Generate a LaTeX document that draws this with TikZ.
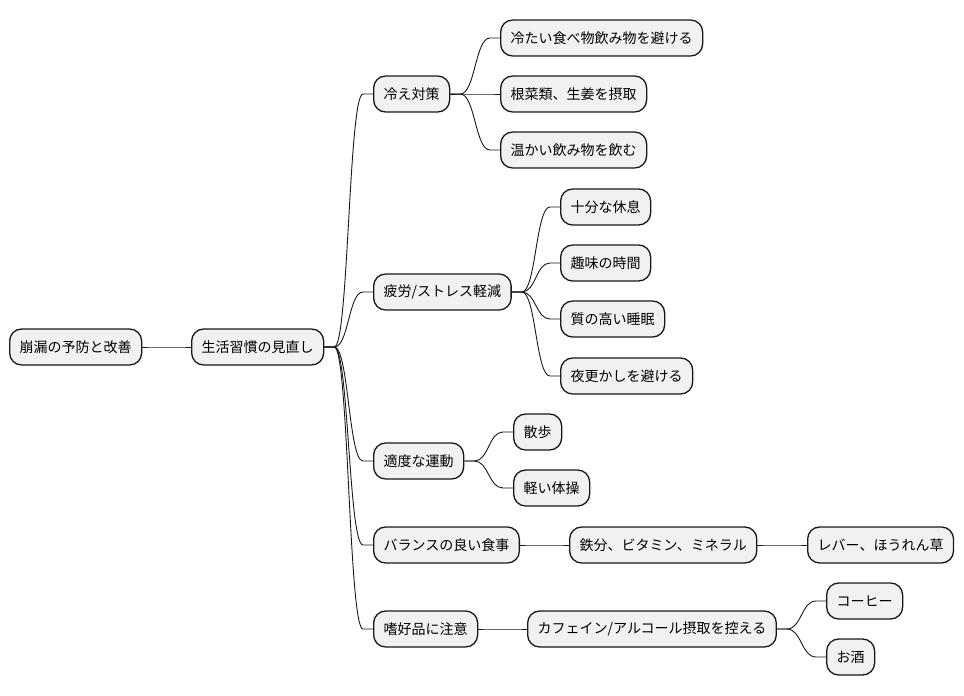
\documentclass[tikz,border=0pt]{standalone}
\usepackage{fontspec}
\setmainfont{Noto Sans CJK JP}
\usepackage{tikz}
\usetikzlibrary{calc}

\definecolor{nodefill}{HTML}{F1F1F1}
\definecolor{nodeline}{HTML}{181818}

\begin{document}
\begin{tikzpicture}[
  x=1pt, y=-1pt,
  idea/.style={draw=nodeline, fill=nodefill, line width=1.3pt, rounded corners=12pt,
    anchor=west, inner xsep=10pt, inner ysep=0pt, minimum height=36pt,
    font=\fontsize{14}{16}\selectfont},
  link/.style={draw=nodeline, line width=0.9pt},
]
\useasboundingbox (0,0) rectangle (964,696);

\node[idea] (root) at (9,347) {崩漏の予防と改善};
\node[idea] (life) at (191,347) {生活習慣の見直し};

\node[idea] (cold) at (373,94) {冷え対策};
\node[idea] (coldfood) at (500,38) {冷たい食べ物飲み物を避ける};
\node[idea] (roots) at (500,94) {根菜類、生姜を摂取};
\node[idea] (warm) at (500,150) {温かい飲み物を飲む};

\node[idea] (stress) at (373,292) {疲労/ストレス軽減};
\node[idea] (rest) at (560,207) {十分な休息};
\node[idea] (hobby) at (560,263) {趣味の時間};
\node[idea] (sleep) at (560,319) {質の高い睡眠};
\node[idea] (late) at (560,376) {夜更かしを避ける};

\node[idea] (move) at (373,461) {適度な運動};
\node[idea] (walk) at (513,432) {散歩};
\node[idea] (gym) at (513,488) {軽い体操};

\node[idea] (diet) at (373,545) {バランスの良い食事};
\node[idea] (iron) at (569,545) {鉄分、ビタミン、ミネラル};
\node[idea] (liver) at (807,545) {レバー、ほうれん草};

\node[idea] (habit) at (373,629) {嗜好品に注意};
\node[idea] (caff) at (527,629) {カフェイン/アルコール摂取を控える};
\node[idea] (coffee) at (826,601) {コーヒー};
\node[idea] (sake) at (826,657) {お酒};

% branches: short stub, S-curve, short stub
\foreach \p/\c in {root/life, life/cold, life/stress, life/move, life/diet, life/habit,
    cold/coldfood, cold/roots, cold/warm,
    stress/rest, stress/hobby, stress/sleep, stress/late,
    move/walk, move/gym, diet/iron, iron/liver,
    habit/caff, caff/coffee, caff/sake} {
  \path (\p.east) ++(10,0) coordinate (bs) (\c.west) ++(-10,0) coordinate (be);
  \path ($(bs)!0.5!(be)$) coordinate (bm);
  \draw[link] (\p.east) -- (bs) .. controls (bm |- bs) and (bm |- be) .. (be) -- (\c.west);
}
\end{tikzpicture}
\end{document}
